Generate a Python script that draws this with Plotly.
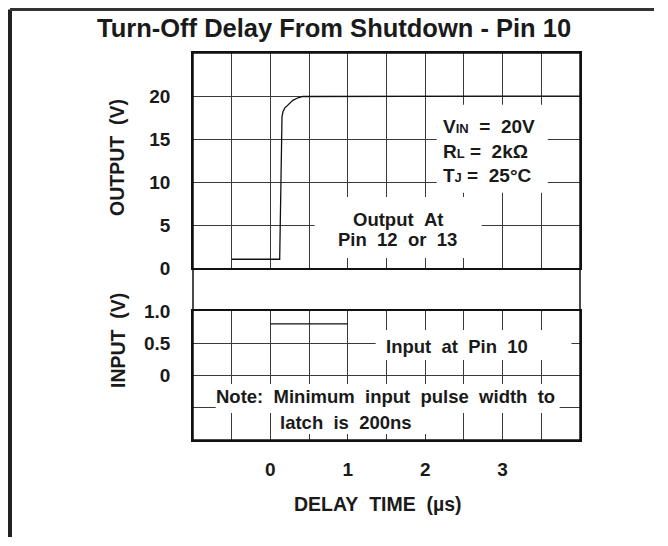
import plotly.graph_objects as go

# ---------------- data ----------------
out_time_us = [-0.5, 0.12, 0.15, 0.163, 0.185, 0.227, 0.29, 0.357, 0.42, 4.0]
out_volts = [1.05, 1.05, 17.6, 18.2, 18.6, 19.0, 19.5, 19.8, 19.95, 20.0]
in_time_us = [0.0, 1.0]
in_volts = [0.8, 0.8]

x_grid = [-0.5, 0, 0.5, 1, 1.5, 2, 2.5, 3, 3.5]
x_labels = ["", "0", "", "1", "", "2", "", "3", ""]
out_ticks = [0, 5, 10, 15, 20]
out_labels = ["0", "5", "10", "15", "20"]
in_ticks = [-0.5, 0, 0.5, 1.0]
in_labels = ["", "0", "0.5", "1.0"]

title = "Turn-Off Delay From Shutdown - Pin 10"
NB = "\u00a0"
SUB = "<span style='font-size:13px'>{}</span>"
cond_text = ("V" + SUB.format("IN") + NB * 2 + "=" + NB * 2 + "20V<br>"
             "R" + SUB.format("L") + NB + "=" + NB * 2 + "2kΩ<br>"
             "T" + SUB.format("J") + NB + "=" + NB * 2 + "25°C")

# ---------------- layout geometry ----------------
# page body adds an 8px offset; target positions below are in screen pixels
OFF = 8
W, H = 652, 530
P_L, P_R, P_T, P_B = 193, 580, 53, 440
ML, MT = P_L - OFF, P_T - OFF
MR, MB = W - (P_R - OFF), H - (P_B - OFF)
PW, PH = P_R - P_L, P_B - P_T
def px(xp):
    return (xp - P_L) / PW
def py(yp):
    return (P_B - yp) / PH

FONT = "Liberation Sans, Arial, Helvetica, sans-serif"
INK = "#1a1a1a"
GRID = "#3a3a3a"

fig = go.Figure()
fig.add_trace(go.Scatter(x=out_time_us, y=out_volts, mode="lines",
                         line=dict(color="#111", width=1.3), xaxis="x", yaxis="y",
                         showlegend=False, hoverinfo="skip"))
fig.add_trace(go.Scatter(x=in_time_us, y=in_volts, mode="lines",
                         line=dict(color="#111", width=1.3), xaxis="x2", yaxis="y2",
                         showlegend=False, hoverinfo="skip"))

axis_common = dict(showline=True, mirror=True, linecolor="#111", linewidth=1.5,
                   showgrid=True, gridcolor=GRID, gridwidth=1, zeroline=False,
                   ticks="", tickfont=dict(family=FONT, size=19, color=INK, weight="bold"))

fig.update_layout(
    width=W, height=H,
    margin=dict(l=ML, r=MR, t=MT, b=MB, pad=0),
    paper_bgcolor="white", plot_bgcolor="white",
    xaxis=dict(range=[-1, 4], tickmode="array", tickvals=x_grid, ticktext=x_labels,
               showticklabels=False, anchor="y", **axis_common),
    xaxis2=dict(range=[-1, 4], tickmode="array", tickvals=x_grid, ticktext=x_labels,
                matches="x", anchor="y2", ticklabelstandoff=11, **axis_common),
    yaxis=dict(range=[0, 25], domain=[py(268.3), 1], tickmode="array",
               tickvals=out_ticks, ticktext=out_labels, anchor="x",
               ticklabelstandoff=17, **axis_common),
    yaxis2=dict(range=[-1, 1], domain=[0, py(311)], tickmode="array",
                tickvals=in_ticks, ticktext=in_labels, anchor="x2",
                ticklabelstandoff=17, **axis_common),
)

shapes = []
# outer plot frame (covers gap band between panels)
shapes.append(dict(type="rect", xref="paper", yref="paper", x0=0, x1=1, y0=0, y1=1,
                   line=dict(color="#111", width=1.5), layer="above"))
# page frame: left and top rules, kept inside the figure
shapes.append(dict(type="line", xref="paper", yref="paper", x0=px(OFF + 2), x1=px(OFF + 2),
                   y0=py(OFF + 1.5), y1=py(OFF + H - 1), line=dict(color="#222", width=4)))
shapes.append(dict(type="line", xref="paper", yref="paper", x0=px(OFF + 2), x1=px(OFF + W - 6),
                   y0=py(OFF + 1.5), y1=py(OFF + 1.5), line=dict(color="#333", width=3)))

# white knock-out boxes behind the labels
def knock(x0, x1, y0, y1, yref):
    shapes.append(dict(type="rect", xref="x", yref=yref, x0=x0, x1=x1, y0=y0, y1=y1,
                       fillcolor="white", line=dict(width=0), layer="above"))
knock(2.149, 3.583, 8.76, 18.99, "y")
knock(0.572, 2.730, 1.20, 8.29, "y")
knock(1.36, 3.89, 0.240, 0.705, "y2")
knock(-0.707, 3.738, -0.581, -0.132, "y2")
knock(0.017, 2.084, -0.907, -0.581, "y2")
fig.update_layout(shapes=shapes)

def ann(text, x, y, xref, yref, size=18.5, xanchor="center", yanchor="middle",
        angle=0, align="center"):
    return dict(text=text, x=x, y=y, xref=xref, yref=yref, showarrow=False,
                xanchor=xanchor, yanchor=yanchor, textangle=angle, align=align,
                font=dict(family=FONT, size=size, color=INK, weight="bold"))

annotations = [
    ann(title, px(334), py(28), "paper", "paper", size=25.5),
    ann("OUTPUT" + NB * 2 + "(V)", px(117), py(158), "paper", "paper", size=19.5, angle=-90),
    ann("INPUT" + NB * 2 + "(V)", px(118), py(341), "paper", "paper", size=19.5, angle=-90),
    ann("DELAY" + NB * 2 + "TIME" + NB * 2 + "(µs)", px(378), py(504), "paper", "paper", size=19.5),
    ann(cond_text, 2.2, 13.64, "x", "y", size=19, xanchor="left", align="left"),
    ann("Output" + NB * 2 + "At", 1.645, 5.62, "x", "y"),
    ann("Pin" + NB * 2 + "12" + NB * 2 + "or" + NB * 2 + "13", 1.638, 3.29, "x", "y"),
    ann("Input" + NB * 2 + "at" + NB * 2 + "Pin" + NB * 2 + "10", 2.41, 0.457, "x2", "y2"),
    ann("Note:" + NB * 2 + "Minimum" + NB * 2 + "input" + NB * 2 + "pulse" + NB * 2
        + "width" + NB * 2 + "to", 1.483, -0.318, "x2", "y2"),
    ann("latch" + NB * 2 + "is" + NB * 2 + "200ns", 0.982, -0.736, "x2", "y2"),
]
fig.update_layout(annotations=annotations)

fig.write_html("out.html")
